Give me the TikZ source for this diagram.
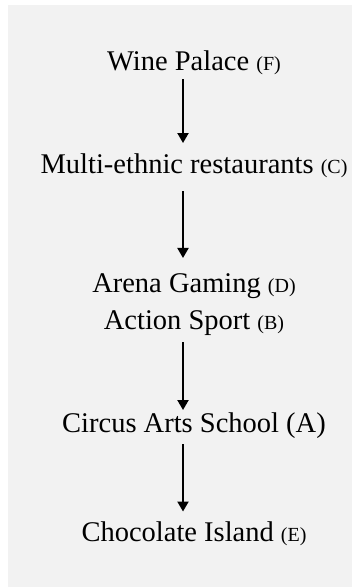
\documentclass[tikz,border=0pt]{standalone}
\usepackage{fontspec}
\setmainfont{Liberation Serif}
\usepackage{xcolor}
\definecolor{panel}{HTML}{F2F2F2}
\usetikzlibrary{arrows.meta}
\newcommand{\sm}[1]{{\fontsize{20}{24}\selectfont #1}}
\tikzset{
  >={Triangle[length=10pt,width=11pt]},
  place/.style={inner sep=0pt,align=center,font=\fontsize{28.5}{37}\selectfont},
  arr/.style={->,draw=black,line width=2pt},
}
\begin{document}
\begin{tikzpicture}[x=1pt,y=1pt]
\useasboundingbox (0,0) rectangle (352,588);
\fill[panel] (8,1) rectangle (352,583);
\coordinate (ax) at (183,0);
% places, top to bottom
\node[place,anchor=base] (wine) at (194,517) {Wine Palace \sm{(F)}};
\node[place,anchor=base] (multi) at (194,414) {Multi-ethnic restaurants \sm{(C)}};
\node[place,anchor=north] (arena) at (194,315) {Arena Gaming \sm{(D)}\\Action Sport \sm{(B)}};
\node[place,anchor=base] (circus) at (194,155) {Circus Arts School (A)};
\node[place,anchor=base] (choc) at (194,46) {Chocolate Island \sm{(E)}};
% links
\draw[arr,shorten <=3.7pt,shorten >=11pt] (wine.south -| ax) -- (multi.north -| ax);
\draw[arr,shorten <=13pt,shorten >=15pt] (multi.south -| ax) -- (arena.north -| ax);
\draw[arr,shorten <=7pt,shorten >=3pt] (arena.south -| ax) -- (circus.north -| ax);
\draw[arr,shorten <=5pt,shorten >=10.5pt] (circus.south -| ax) -- (choc.north -| ax);
\end{tikzpicture}
\end{document}
